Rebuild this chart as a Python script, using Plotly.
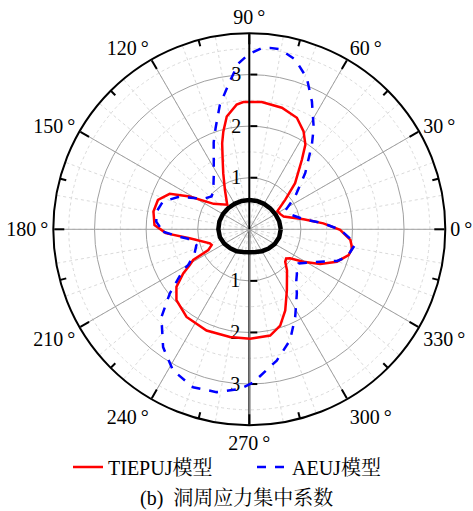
import plotly.graph_objects as go

# Stress concentration factor around the opening (polar angle in degrees)
tiepuj_theta = [-177.2, -171.4, -160.4, -157.3, -153.2, -151.3, -149.0, -146.3, -141.7,
                -135.8, -125.6, -112.9, -100.2, -89.6, -78.9, -72.2, -66.1, -58.4, -53.6,
                -47.4, -42.2, -38.3, -35.5, -31.0, -26.1, -20.3, -14.6, -10.5, -6.0, -0.4,
                4.6, 10.5, 20.3, 26.0, 33.0, 39.4, 45.2, 52.9, 56.5, 61.0, 66.9, 75.0, 84.4,
                92.7, 95.8, 101.3, 104.9, 107.5, 111.0, 114.9, 121.7, 132.0, 144.5, 151.2,
                156.0, 162.2, 169.5, 177.4]
tiepuj_r = [1.61, 1.17, 0.81, 0.79, 0.89, 1.24, 1.35, 1.54, 1.80,
            1.97, 2.09, 2.13, 2.12, 2.12, 2.10, 1.96, 1.72, 1.39, 1.23,
            1.08, 0.94, 0.91, 0.97, 1.22, 1.53, 1.81, 1.99, 2.03, 1.97, 1.76,
            1.44, 1.07, 0.71, 0.67, 0.65, 0.90, 1.26, 1.69, 1.97, 2.17, 2.35, 2.44, 2.48,
            2.47, 2.43, 2.23, 1.96, 1.75, 1.44, 1.20, 0.90, 0.64, 0.85, 1.32,
            1.69, 1.86, 1.89, 1.84]

aeuj_theta = [-178.4, -173.9, -169.2, -163.4, -156.2, -149.7, -148.3, -141.1, -135.0,
              -126.2, -118.4, -109.6, -101.4, -93.3, -88.5, -78.2, -69.8, -62.4, -53.5,
              -48.0, -42.9, -39.9, -34.8, -30.2, -24.6, -19.8, -15.7, -9.0, -6.0, -0.4,
              4.6, 10.5, 21.4, 27.9, 35.5, 45.2, 53.5, 57.6, 63.9, 69.2, 74.9, 80.3, 83.5,
              86.1, 90.3, 93.8, 97.4, 103.3, 108.4, 112.3, 122.5, 133.8, 139.0, 147.0,
              154.8, 162.2, 169.2, 175.3]
aeuj_r = [1.67, 1.36, 1.11, 1.07, 1.16, 1.37, 1.51, 1.98, 2.41,
          2.83, 3.11, 3.25, 3.22, 3.10, 2.97, 2.60, 2.29, 1.92, 1.55,
          1.36, 1.26, 1.18, 1.16, 1.29, 1.51, 1.81, 1.97, 2.06, 2.00, 1.77,
          1.44, 1.07, 0.82, 0.80, 1.09, 1.54, 2.04, 2.33, 2.76, 3.14, 3.41, 3.54, 3.54,
          3.52, 3.39, 3.22, 2.90, 2.48, 2.07, 1.82, 1.28, 1.01, 0.97, 1.08,
          1.49, 1.76, 1.83, 1.81]

# Outline of the opening
hole_theta = [0, 15, 30, 45, 60, 75, 90, 105, 120, 135, 150, 165, 180,
              195, 210, 225, 240, 255, 270, 285, 300, 315, 330, 345]
hole_r = [0.61, 0.60, 0.585, 0.575, 0.57, 0.57, 0.57, 0.57, 0.57, 0.58, 0.59, 0.60, 0.60,
          0.59, 0.56, 0.52, 0.49, 0.455, 0.445, 0.455, 0.49, 0.53, 0.57, 0.60]

radial_ticks = [1, 2, 3]
angle_ticks = list(range(0, 360, 30))
angle_labels = [f"{a}\u2009°" for a in angle_ticks]

FONT = "Liberation Serif, Times New Roman, Noto Serif CJK SC, Noto Sans CJK SC, serif"
R_MAX = 3.8


def closed(t, r):
    return list(t) + [t[0]], list(r) + [r[0]]


fig = go.Figure()

# empty placeholders so the background layers get full axis rendering
for sp in ("polar", "polar2"):
    fig.add_trace(go.Scatterpolar(theta=[0], r=[0], mode="markers", subplot=sp,
                                  marker=dict(size=0.1, opacity=0), showlegend=False,
                                  hoverinfo="skip"))

t, r = closed(hole_theta, hole_r)
fig.add_trace(go.Scatterpolar(theta=t, r=r, mode="lines", subplot="polar3",
                              line=dict(color="black", width=4.5), showlegend=False))
t, r = closed(tiepuj_theta, tiepuj_r)
fig.add_trace(go.Scatterpolar(theta=t, r=r, mode="lines", name="TIEPUJ模型", subplot="polar3",
                              line=dict(color="#ff0000", width=2.5)))
t, r = closed(aeuj_theta, aeuj_r)
fig.add_trace(go.Scatterpolar(theta=t, r=r, mode="lines", name="AEUJ模型", subplot="polar3",
                              line=dict(color="#0000ff", width=2.5, dash="dash")))

dom = dict(x=[53.3 / 473, 445.3 / 473], y=[1 - 425.3 / 511, 1 - 33.3 / 511])

fig.update_layout(
    width=473, height=511,
    margin=dict(l=0, r=0, t=0, b=0),
    paper_bgcolor="white",
    font=dict(family=FONT, size=20, color="black"),
    # dotted minor grid
    polar=dict(
        domain=dom, bgcolor="white",
        radialaxis=dict(range=[0, R_MAX], tickvals=[0.5, 1.5, 2.5, 3.5], showticklabels=False,
                        ticks="", showline=False, gridcolor="#dadada", griddash="dot",
                        gridwidth=1),
        angularaxis=dict(rotation=0, direction="counterclockwise", tickvals=list(range(0, 360, 10)),
                         showticklabels=False, ticks="", showline=False,
                         gridcolor="#dadada", griddash="dot", gridwidth=1),
    ),
    # solid major grid, minor angular ticks, lower radial scale
    polar2=dict(
        domain=dom, bgcolor="rgba(0,0,0,0)",
        radialaxis=dict(range=[0, R_MAX], tickvals=radial_ticks, angle=-90, side="clockwise",
                        ticks="inside", ticklen=7, tickwidth=1.5, tickcolor="black",
                        showline=True, linecolor="black", linewidth=2, tickangle=-90,
                        showticklabels=True,
                        gridcolor="#a0a0a0", gridwidth=1, tickfont=dict(size=20)),
        angularaxis=dict(rotation=0, direction="counterclockwise",
                         tickvals=list(range(15, 360, 30)), showticklabels=False,
                         ticks="inside", ticklen=6, tickwidth=1.5, tickcolor="black",
                         showline=False, showgrid=False),
    ),
    # main layer with curves
    polar3=dict(
        domain=dom, bgcolor="rgba(0,0,0,0)",
        radialaxis=dict(range=[0, R_MAX], tickvals=radial_ticks, angle=90, side="counterclockwise",
                        ticks="inside", ticklen=7, tickwidth=1.5, tickcolor="black",
                        showline=True, linecolor="black", linewidth=2, tickangle=90,
                        showgrid=False, tickfont=dict(size=20)),
        angularaxis=dict(rotation=0, direction="counterclockwise", tickvals=angle_ticks,
                         ticktext=angle_labels, ticks="inside", ticklen=10, tickwidth=2,
                         tickcolor="black", showline=True, linecolor="black", linewidth=2,
                         gridcolor="#a0a0a0", gridwidth=1, tickfont=dict(size=20)),
    ),
    legend=dict(orientation="h", x=68 / 473, xanchor="left", y=1 - 467 / 511, yanchor="middle",
                font=dict(size=20), bgcolor="rgba(0,0,0,0)", entrywidth=139,
                entrywidthmode="pixels"),
    annotations=[dict(text="(b)  洞周应力集中系数", x=0.5, y=1 - 498 / 511, xref="paper",
                      yref="paper", showarrow=False, xanchor="center", yanchor="middle",
                      font=dict(size=20))],
)

fig.write_html("out.html")
